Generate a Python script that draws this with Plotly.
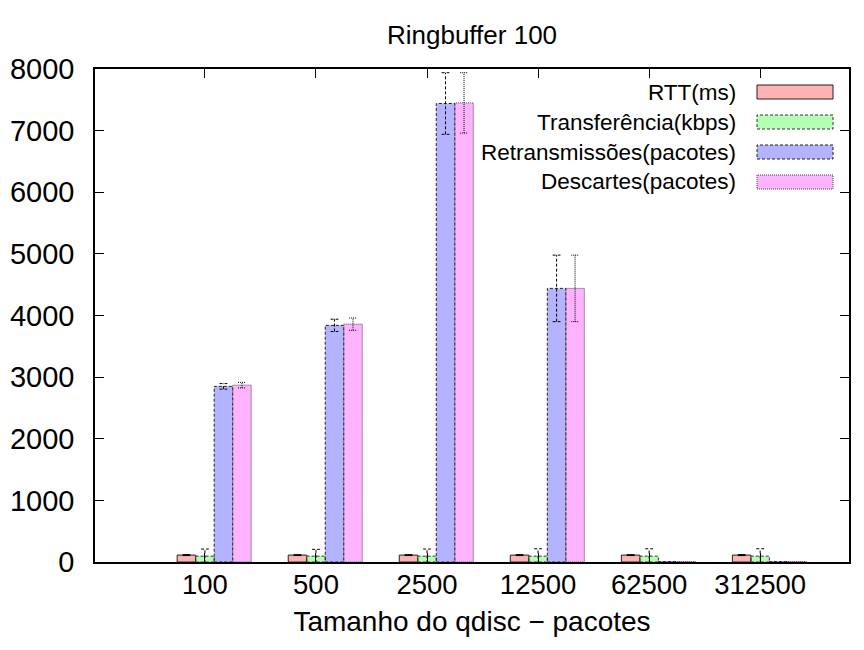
import plotly.graph_objects as go

# ---------------- data ----------------
categories = ["100", "500", "2500", "12500", "62500", "312500"]
rtt = [112, 112, 112, 112, 112, 112]
rtt_err = [8, 8, 8, 8, 8, 8]
transfer = [95, 95, 95, 95, 95, 95]
transfer_err = [115, 110, 115, 120, 120, 120]
retrans = [2850, 3840, 7440, 4440, 5, 5]
retrans_err = [45, 100, 500, 540, 0, 0]
drops = [2870, 3860, 7450, 4440, 5, 5]
drops_err = [45, 100, 490, 540, 0, 0]
series_names = ["RTT(ms)", "Transferência(kbps)", "Retransmissões(pacotes)", "Descartes(pacotes)"]
y_ticks = [0, 1000, 2000, 3000, 4000, 5000, 6000, 7000, 8000]

# ---------------- styles ----------------
FONT = "Liberation Sans, Arial, Helvetica, sans-serif"
fills = ["#ffb3b3", "#b3ffb3", "#b3b3ff", "#ffb3ff"]
edges = ["#222222", "#333333", "#222222", "#444444"]
dashes = ["solid", "3px,2px", "3px,2px", "1px,1px"]
BW = 1 / 6.0
offsets = [-1 * BW, 0, 1 * BW, 2 * BW]  # bar centers relative to tick
CAP = 0.035

W, H = 864, 650
OFF = 8  # page body margin
# plot frame in screen pixels
L, R, T, B = 95, 849, 69, 562

values = [rtt, transfer, retrans, drops]
errors = [rtt_err, transfer_err, retrans_err, drops_err]
xs = list(range(len(categories)))

fig = go.Figure()
shapes = []
for s in range(4):
    fig.add_trace(go.Bar(
        x=xs, y=values[s], width=BW, offset=offsets[s] - BW / 2,
        marker=dict(color=fills[s], line=dict(width=0)),
        name=series_names[s], showlegend=False, hoverinfo="y",
    ))
    for i, v in enumerate(values[s]):
        x0 = i + offsets[s] - BW / 2
        x1 = x0 + BW
        shapes.append(dict(type="rect", xref="x", yref="y", x0=x0, x1=x1, y0=0, y1=v,
                           line=dict(color=edges[s], width=1, dash=dashes[s]),
                           fillcolor="rgba(0,0,0,0)", layer="above"))
        e = errors[s][i]
        if e > 0:
            xc = i + offsets[s]
            ld = dict(color="#000000", width=1, dash=dashes[s])
            shapes.append(dict(type="line", xref="x", yref="y", x0=xc, x1=xc,
                               y0=v - e, y1=v + e, line=ld, layer="above"))
            shapes.append(dict(type="line", xref="x", yref="y", x0=xc - CAP, x1=xc + CAP,
                               y0=v + e, y1=v + e, line=ld, layer="above"))
            shapes.append(dict(type="line", xref="x", yref="y", x0=xc - CAP, x1=xc + CAP,
                               y0=v - e, y1=v - e, line=ld, layer="above"))

# ---------------- custom legend (text left, sample right) ----------------
def px_x(p):
    return (p - L) / (R - L)

def px_y(p):
    return (B - p) / (B - T)

annotations = []
row_y = [92, 122, 152, 182]
for s in range(4):
    annotations.append(dict(xref="paper", yref="paper", x=px_x(738), y=px_y(row_y[s]),
                            xanchor="right", yanchor="middle", showarrow=False,
                            text=series_names[s], font=dict(family=FONT, size=22.5, color="black")))
    shapes.append(dict(type="rect", xref="paper", yref="paper",
                       x0=px_x(757), x1=px_x(833), y0=px_y(row_y[s] + 7), y1=px_y(row_y[s] - 7),
                       fillcolor=fills[s], line=dict(color=edges[s], width=1, dash=dashes[s])))

fig.update_layout(
    width=W, height=H,
    margin=dict(l=L - OFF, r=W - (R - OFF), t=T - OFF, b=H - (B - OFF), autoexpand=False),
    plot_bgcolor="white", paper_bgcolor="white",
    barmode="overlay",
    font=dict(family=FONT, color="black", size=26),
    title=dict(text="Ringbuffer 100", x=((L + R) / 2 - OFF) / W, xanchor="center",
               y=1 - 27 / H, yanchor="middle", automargin=False,
               font=dict(family=FONT, size=26, color="black")),
    xaxis=dict(
        range=[-0.99, 5.80], tickmode="array", tickvals=xs, ticktext=categories,
        ticks="inside", ticklen=9, tickcolor="black", showline=True, linecolor="black",
        linewidth=1.5, mirror="allticks", showgrid=False, zeroline=False, automargin=False,
        tickfont=dict(family=FONT, size=27.5, color="black"), ticklabelstandoff=-3,
        title=dict(text="Tamanho do qdisc − pacotes", font=dict(family=FONT, size=28, color="black"),
                   standoff=13),
    ),
    yaxis=dict(
        range=[0, 8000], tickmode="array", tickvals=y_ticks,
        ticks="inside", ticklen=9, tickcolor="black", showline=True, linecolor="black",
        linewidth=1.5, mirror="allticks", showgrid=False, zeroline=False, automargin=False,
        tickfont=dict(family=FONT, size=29, color="black"), ticklabelstandoff=13,
    ),
    shapes=shapes, annotations=annotations,
)

fig.write_html("out.html")
